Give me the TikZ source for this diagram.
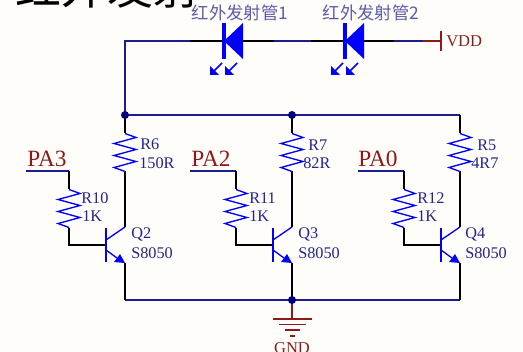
\documentclass[tikz,border=0pt]{standalone}
\usepackage{fontspec}
\setmainfont{Liberation Serif}
\newfontfamily\cjk{Noto Sans CJK SC}
\definecolor{bg}{HTML}{FFFDF9}
\definecolor{wirenavy}{HTML}{1C1C8C}
\definecolor{dotnavy}{HTML}{000080}
\definecolor{part}{HTML}{0000FF}
\definecolor{lab}{HTML}{24248C}
\definecolor{pwr}{HTML}{8B1A1A}
\tikzset{
 x=0.75pt,y=-0.75pt,
 wire/.style={draw=black,line width=0.95pt},
 netw/.style={draw=wirenavy,line width=0.95pt},
 pwrw/.style={draw=pwr,line width=0.95pt},
 sym/.style={draw=part,line width=1pt,line join=miter},
 jdot/.style={circle,fill=dotnavy,inner sep=0pt,minimum size=6pt},
 lbl/.style={text=lab,font=\fontsize{12.2}{14}\selectfont,anchor=west,inner sep=0pt},
 cnl/.style={text=lab!75,font=\cjk\fontsize{13}{14}\selectfont,anchor=center,inner sep=0pt},
 netl/.style={text=pwr,font=\fontsize{17.5}{18}\selectfont,anchor=west,inner sep=0pt},
 pwl/.style={text=pwr,font=\fontsize{12.4}{14}\selectfont,inner sep=0pt},
}
% \ledarrows{tip x}{tip y}
\newcommand{\ledarrows}[2]{%
 \draw[sym,line width=1.3pt] (#1+12,#2-12) -- (#1+3,#2-3);
 \fill[part] (#1,#2) -- (#1+9,#2) -- (#1,#2-9) -- cycle;
}
\newcommand{\ledsym}[1]{%
 \fill[part] (#1,23) rectangle (#1+3.5,59);
 \fill[part] (#1+2,41) -- (#1+21,23) -- (#1+21,59) -- cycle;
 \ledarrows{#1-12}{75}
 \ledarrows{#1+3}{75}
}
% \zigr{x}{top y}
\newcommand{\zigr}[2]{%
 \draw[sym] (#1,#2) -- ++(11,4) -- ++(-22,6) -- ++(22,6) -- ++(-22,6) -- ++(22,6) -- ++(-22,6) -- ++(11,4);
}
% \transsym{emitter x}
\newcommand{\transsym}[1]{%
 \draw[sym] (#1-19,228) -- (#1-19,262);
 \draw[sym] (#1-19,240) -- (#1,227);
 \draw[sym] (#1-19,250) -- (#1-8,258);
 \fill[part] (#1,263) -- (#1-5,254) -- (#1-11,262) -- cycle;
}
\begin{document}
\begin{tikzpicture}
\useasboundingbox (0,0) rectangle (523,352);
\clip (0,0) rectangle (523,352);
\fill[bg] (0,0) rectangle (523,352);
% heading, cut off by the top edge
\node[anchor=base west,inner sep=0pt,font=\cjk\fontsize{34.5}{35}\selectfont,text=black] (head) at (15,5) {红外发射};
% named points
\coordinate (tl) at (125,41);
\coordinate (bl) at (125,115);
\coordinate (bm) at (292,115);
\coordinate (br) at (460,115);
\coordinate (el) at (125,300);
\coordinate (em) at (292,300);
\coordinate (er) at (460,300);
\coordinate (vdd) at (441,41);
\coordinate (gndt) at (292,319);
% top wire
\draw[netw] (bl) -- (tl) -- (190,41);
\draw[wire] (190,41) -- (222,41);
\draw[wire] (243,41) -- (274,41);
\draw[netw] (274,41) -- (311,41);
\draw[wire] (311,41) -- (343,41);
\draw[wire] (364,41) -- (394,41);
\draw[netw] (394,41) -- (423,41);
\draw[pwrw] (423,41) -- (vdd);
\draw[pwrw] (441,31) -- (441,51);
% buses
\draw[netw] (bl) -- (bm) -- (br);
\draw[netw] (el) -- (em) -- (er);
% columns
\foreach \ex/\bx/\px/\top/\bot in {125/69/26/bl/el, 292/236/190/bm/em, 460/404/358/br/er}{
 \draw[wire] (\top) -- (\ex,133.5);
 \draw[wire] (\ex,171.5) -- (\ex,227);
 \draw[wire] (\ex,263) -- (\bot);
 \draw[netw] (\px,171) -- (\bx,171);
 \draw[wire] (\bx,171) -- (\bx,189.5);
 \draw[wire] (\bx,227.5) -- (\bx,245) -- (\ex-19,245);
 \zigr{\ex}{133.5}
 \zigr{\bx}{189.5}
 \transsym{\ex}
}
\ledsym{222}
\ledsym{343}
% ground
\draw[pwrw] (em) -- (gndt);
\draw[pwrw] (273,319) -- (312,319);
\draw[pwrw] (279,324.5) -- (306,324.5);
\draw[pwrw] (285,330) -- (300,330);
\draw[pwrw] (290,336) -- (295,336);
\node[jdot] (j1) at (bl) {};
\node[jdot] (j2) at (bm) {};
\node[jdot] (j3) at (em) {};
% labels
\node[cnl] (l1) at (240,13) {红外发射管1};
\node[cnl] (l2) at (371,13) {红外发射管2};
\node[pwl,anchor=west] (lv) at (446,41) {VDD};
\node[pwl] (lg) at (292,348) {GND};
\node[netl] (pa3) at (27,158.5) {PA3};
\node[netl] (pa2) at (191,158.5) {PA2};
\node[netl] (pa0) at (358,158.5) {PA0};
\node[lbl] (r6) at (140,144) {R6};
\node[lbl] (r6v) at (139,163) {150R};
\node[lbl] (r7) at (308,145) {R7};
\node[lbl] (r7v) at (303,163) {82R};
\node[lbl] (r5) at (477,145) {R5};
\node[lbl] (r5v) at (471,163) {4R7};
\node[lbl] (r10) at (81,198) {R10};
\node[lbl] (r10v) at (82,216) {1K};
\node[lbl] (r11) at (249,198) {R11};
\node[lbl] (r11v) at (249,216) {1K};
\node[lbl] (r12) at (417,198) {R12};
\node[lbl] (r12v) at (417,216) {1K};
\node[lbl] (q2) at (131,234) {Q2};
\node[lbl] (q2v) at (131,253) {S8050};
\node[lbl] (q3) at (298,234) {Q3};
\node[lbl] (q3v) at (298,253) {S8050};
\node[lbl] (q4) at (465,234) {Q4};
\node[lbl] (q4v) at (465,253) {S8050};
\end{tikzpicture}
\end{document}
